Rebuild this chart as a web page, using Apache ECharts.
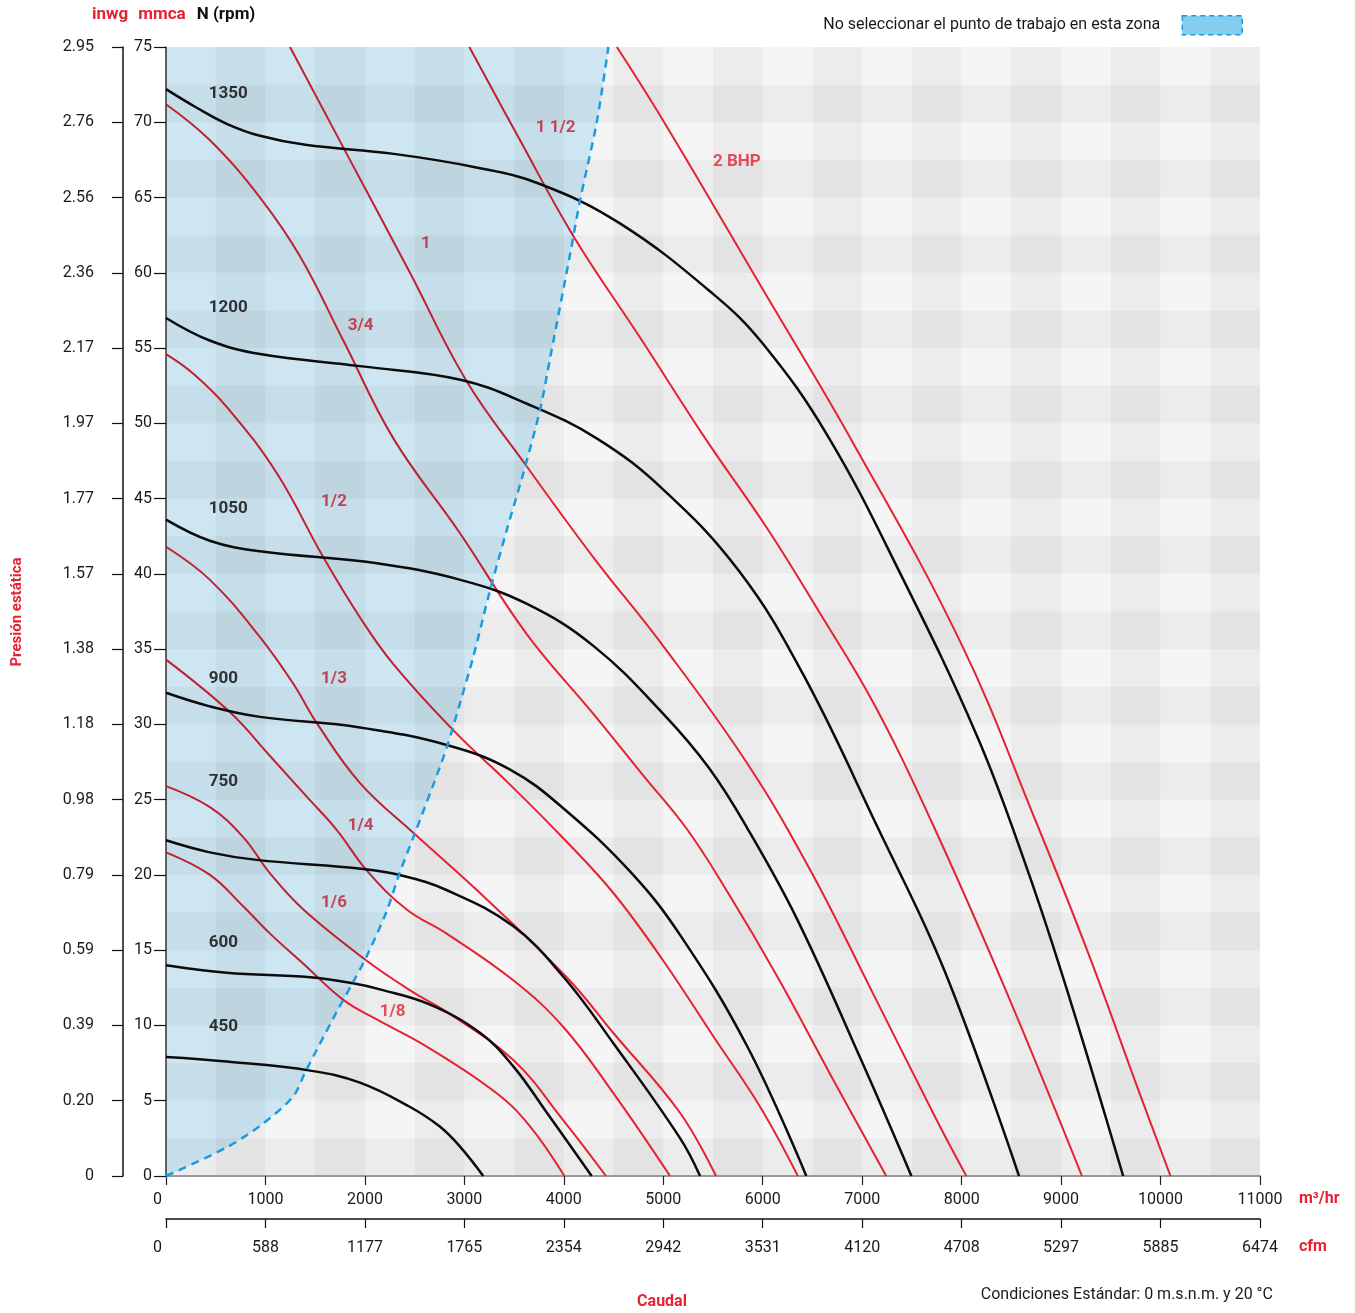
<!DOCTYPE html>
<html>
<head>
<meta charset="utf-8">
<script src="https://cdn.jsdelivr.net/npm/echarts@6/dist/echarts.min.js"></script>
<style>html,body{margin:0;padding:0;background:#fff}#c{width:1355px;height:1313px}</style>
</head>
<body>
<div id="c"></div>
<script>
// ---- axis tick labels ----
const inwgLabels = ['0','0.20','0.39','0.59','0.79','0.98','1.18','1.38','1.57','1.77','1.97','2.17','2.36','2.56','2.76','2.95'];
const cfmLabels = ['0','588','1177','1765','2354','2942','3531','4120','4708','5297','5885','6474'];

// ---- fan curves (m3/h, mmca) by rpm ----
const rpm1350 = [[0,72.2],[300,71.0],[610,69.9],[945,69.1],[1400,68.5],[2290,67.9],[3120,67.0],[3760,65.9],[4560,63.3],[5500,58.6],[6000,55.3],[6650,49.2],[7400,39.8],[8150,29.3],[8600,21.5],[9020,13.2],[9624,0]];
const rpm1200 = [[0,57.0],[440,55.5],[945,54.6],[1950,53.8],[2960,52.9],[3630,51.3],[4330,49.0],[5000,45.6],[5760,40.2],[6400,33.4],[7160,23.1],[7830,13.6],[8577,0]];
const rpm1050 = [[0,43.6],[440,42.2],[945,41.5],[2120,40.7],[2960,39.6],[3630,38.0],[4300,35.2],[5000,30.7],[5460,27.1],[5845,23.1],[6350,17.0],[6990,7.7],[7495,0]];
const rpm900 = [[0,32.1],[440,31.2],[945,30.5],[1950,29.8],[2840,28.6],[3460,27.0],[4000,24.4],[4670,20.2],[5170,16.0],[5845,8.6],[6438,0]];
const rpm750 = [[0,22.3],[440,21.5],[910,21.0],[1980,20.4],[2350,20.0],[2820,19.0],[3490,16.6],[4000,13.2],[4500,8.8],[5170,2.5],[5370,0]];
const rpm600 = [[0,14.0],[610,13.5],[1450,13.2],[1880,12.8],[2150,12.4],[2650,11.4],[3160,9.5],[3490,7.3],[3830,4.2],[4280,0]];
const rpm450 = [[0,7.9],[610,7.6],[1450,7.0],[1950,6.2],[2450,4.6],[2750,3.3],[2950,2.0],[3190,0]];

// ---- power curves (BHP) ----
const bhp2 = [[4533,75],[5000,70.1],[6000,58.9],[6900,48.8],[8000,35.3],[8750,23.5],[9273,14.8],[9800,5.3],[10100,0]];
const bhp1_5 = [[3050,75],[3560,68.8],[4100,62.4],[4786,55.5],[5422,49.0],[6057,42.9],[6565,37.5],[7115,31.4],[7700,23.5],[8427,12.6],[9210,0]];
const bhp1 = [[1247,75],[1817,67.9],[2453,60.0],[3023,52.8],[3610,47.3],[4297,41.1],[5000,35.2],[5845,27.4],[6480,20.3],[7073,12.6],[7750,3.7],[8047,0]];
const bhp3_4 = [[0,71.2],[442,68.8],[945,65.0],[1347,61.1],[1783,55.5],[2286,49.0],[2956,42.7],[3627,36.0],[4297,30.7],[4787,26.7],[5232,23.1],[5634,19.0],[6142,13.3],[6692,6.6],[7242,0]];
const bhp1_2 = [[0,54.6],[275,53.3],[610,51.1],[1113,46.7],[1582,41.1],[1951,37.1],[2286,34.0],[2890,29.6],[3459,26.0],[4000,22.4],[4498,18.8],[5000,14.3],[5506,9.25],[5973,4.6],[6353,0]];
const bhp1_3 = [[0,41.8],[442,39.6],[945,35.8],[1280,32.7],[1515,30.1],[1951,26.1],[2487,22.8],[3157,18.8],[4029,13.2],[4498,9.5],[5168,4.2],[5530,0]];
const bhp1_4 = [[0,34.3],[644,30.8],[1046,27.9],[1415,25.2],[1716,23.0],[2018,20.3],[2420,17.7],[2822,16.1],[3492,13.0],[3995,9.9],[4498,5.5],[5068,0]];
const bhp1_6 = [[0,25.9],[442,24.5],[778,22.5],[1046,20.1],[1381,17.7],[2018,14.3],[2487,12.2],[2822,10.9],[3492,7.7],[3995,3.7],[4424,0]];
const bhp1_8 = [[0,21.5],[442,20.0],[778,17.9],[1046,16.1],[1381,14.1],[1783,11.7],[2119,10.4],[2621,8.6],[3325,5.5],[3660,3.3],[4006,0]];

// ---- "do not select" zone boundary ----
const zoneEdge = [[0,0],[610,1.9],[980,3.5],[1280,5.3],[1400,6.9],[1716,10.9],[1883,12.9],[2018,14.6],[2219,17.6],[2353,20.2],[2487,22.5],[2688,26.0],[2830,28.6],[2960,31.5],[3090,34.5],[3258,38.9],[3426,42.9],[3593,46.7],[3761,50.9],[3861,54.3],[4062,61.2],[4163,64.8],[4331,70.0],[4448,75]];

// ---- curve annotations ----
const rpmNames = ['1350','1200','1050','900','750','600','450'];
const rpmAnchors = [[627,71.9],[627,57.7],[627,44.3],[577,33.05],[577,26.2],[577,15.5],[577,9.9]];
const bhpNames = ['2 BHP','1 1/2','1','3/4','1/2','1/3','1/4','1/6','1/8'];
const bhpAnchors = [[5740,67.4],[3918,69.65],[2614,61.9],[1957,56.5],[1689,44.8],[1689,33.05],[1957,23.3],[1689,18.15],[2279,10.9]];

const zoneName = 'No seleccionar el punto de trabajo en esta zona';
const RED = '#e42233';
const BLACK = '#0c0c0c';
const FONT = 'Roboto';

const rpmSeries = [rpm1350, rpm1200, rpm1050, rpm900, rpm750, rpm600, rpm450];
const bhpSeries = [bhp2, bhp1_5, bhp1, bhp3_4, bhp1_2, bhp1_3, bhp1_4, bhp1_6, bhp1_8];

const series = [];
bhpSeries.forEach((d, i) => series.push({
  name: 'bhp ' + bhpNames[i], type: 'line', data: d, showSymbol: false, smooth: 0.4,
  lineStyle: { color: RED, width: 2 }, itemStyle: { color: RED }, z: 2, silent: true
}));
rpmSeries.forEach((d, i) => series.push({
  name: 'rpm ' + rpmNames[i], type: 'line', data: d, showSymbol: false, smooth: 0.4,
  lineStyle: { color: BLACK, width: 2.5 }, itemStyle: { color: BLACK }, z: 2, silent: true
}));
series.push({
  name: 'labels', type: 'scatter', symbolSize: 1, z: 3, silent: true,
  itemStyle: { color: 'rgba(0,0,0,0)' },
  data: rpmAnchors.map((p, i) => ({ value: p, name: rpmNames[i], label: { color: '#050505' } }))
    .concat(bhpAnchors.map((p, i) => ({ value: p, name: bhpNames[i], label: { color: RED } }))),
  label: { show: true, position: 'inside', formatter: '{b}', fontFamily: FONT, fontWeight: 'bold', fontSize: 17 }
});
// tinted zone (multiplied over the grid and curves)
series.push({
  name: 'zone fill', type: 'line', data: zoneEdge, showSymbol: false, smooth: 0.3, z: 5, silent: true,
  blendMode: 'multiply',
  lineStyle: { width: 0, opacity: 0 },
  areaStyle: { origin: 'end', color: 'rgb(214,240,252)', opacity: 1 }
});
// dashed boundary
series.push({
  name: zoneName, type: 'line', data: zoneEdge, showSymbol: false, smooth: 0.3, z: 6, silent: true,
  lineStyle: { color: '#1a9be0', width: 2.5, type: [8, 6] },
  itemStyle: { color: '#82cdf0' }
});

const hidden = { axisLine: { show: false }, axisTick: { show: false }, axisLabel: { show: false }, splitLine: { show: false } };

const option = {
  animation: false,
  backgroundColor: '#ffffff',
  textStyle: { fontFamily: FONT },
  grid: { left: 166, right: 95, top: 47, bottom: 137, show: true, backgroundColor: '#f5f5f5', borderWidth: 0 },
  legend: {
    show: true, right: 112, top: 15, padding: 0, itemWidth: 60, itemHeight: 19, align: 'right', selectedMode: false,
    data: [{ name: zoneName, icon: 'rect', itemStyle: { color: '#82cdf0', borderColor: '#1a9be0', borderWidth: 1.5, borderType: [5, 4] } }],
    textStyle: { fontFamily: FONT, fontSize: 16, color: '#1a1a1a', padding: [0, 17, 0, 0] }
  },
  xAxis: [
    { type: 'value', min: 0, max: 11000, interval: 1000, position: 'bottom',
      axisLine: { show: true, onZero: false, lineStyle: { color: '#9a9a9a', width: 2 } },
      axisTick: { show: true, length: 9, lineStyle: { color: '#222', width: 1.2 } },
      axisLabel: { margin: 16, fontSize: 16, color: '#1a1a1a', fontFamily: FONT, alignMinLabel: 'right',
        formatter: v => (v === 0 ? '0 ' : String(v)) },
      splitLine: { show: false } },
    { type: 'value', min: 0, max: 11000, interval: 1000, position: 'bottom', offset: 43,
      axisLine: { show: true, onZero: false, lineStyle: { color: '#111', width: 1.5 } },
      axisTick: { show: true, length: 9, lineStyle: { color: '#111', width: 1.2 } },
      axisLabel: { margin: 21, fontSize: 16, color: '#1a1a1a', fontFamily: FONT, alignMinLabel: 'right',
        formatter: v => { const s = cfmLabels[Math.round(v / 1000)]; return v === 0 ? s + ' ' : s; } },
      splitLine: { show: false } },
    Object.assign({ type: 'value', min: 0, max: 11000, interval: 500, position: 'top',
      splitArea: { show: true, areaStyle: { color: ['rgba(0,0,0,0)', 'rgba(0,0,0,0.037)'] } } }, hidden)
  ],
  yAxis: [
    { type: 'value', min: 0, max: 75, interval: 5, position: 'left',
      axisLine: { show: true, onZero: false, lineStyle: { color: '#333', width: 1.5 } },
      axisTick: { show: true, length: 12, lineStyle: { color: '#111', width: 1.2 } },
      axisLabel: { margin: 14, fontSize: 16, color: '#1a1a1a', fontFamily: FONT },
      splitLine: { show: false } },
    { type: 'value', min: 0, max: 75, interval: 5, position: 'left', offset: 43,
      axisLine: { show: true, onZero: false, lineStyle: { color: '#111', width: 1.5 } },
      axisTick: { show: true, length: 11, lineStyle: { color: '#111', width: 1.2 } },
      axisLabel: { margin: 29, fontSize: 16, color: '#1a1a1a', fontFamily: FONT,
        formatter: v => inwgLabels[Math.round(v / 5)] },
      splitLine: { show: false } },
    Object.assign({ type: 'value', min: 0, max: 75, interval: 2.5, position: 'right',
      splitArea: { show: true, areaStyle: { color: ['rgba(0,0,0,0.037)', 'rgba(0,0,0,0)'] } } }, hidden)
  ],
  graphic: [
    { type: 'text', x: 110, y: 15, style: { text: 'inwg', fill: RED, fontFamily: FONT, fontWeight: 'bold', fontSize: 17, align: 'center', verticalAlign: 'middle' } },
    { type: 'text', x: 162, y: 15, style: { text: 'mmca', fill: RED, fontFamily: FONT, fontWeight: 'bold', fontSize: 17, align: 'center', verticalAlign: 'middle' } },
    { type: 'text', x: 226, y: 15, style: { text: 'N (rpm)', fill: '#111', fontFamily: FONT, fontWeight: 'bold', fontSize: 17, align: 'center', verticalAlign: 'middle' } },
    { type: 'text', x: 17, y: 612, rotation: Math.PI / 2, style: { text: 'Presión estática', fill: RED, fontFamily: FONT, fontWeight: 'bold', fontSize: 15, align: 'center', verticalAlign: 'middle' } },
    { type: 'text', x: 1299, y: 1199, style: { text: 'm³/hr', fill: RED, fontFamily: FONT, fontWeight: 'bold', fontSize: 16, align: 'left', verticalAlign: 'middle' } },
    { type: 'text', x: 1299, y: 1247, style: { text: 'cfm', fill: RED, fontFamily: FONT, fontWeight: 'bold', fontSize: 16, align: 'left', verticalAlign: 'middle' } },
    { type: 'text', x: 662, y: 1302, style: { text: 'Caudal', fill: RED, fontFamily: FONT, fontWeight: 'bold', fontSize: 16, align: 'center', verticalAlign: 'middle' } },
    { type: 'text', x: 1273, y: 1295, style: { text: 'Condiciones Estándar: 0 m.s.n.m. y 20 °C', fill: '#1a1a1a', fontFamily: FONT, fontSize: 16, align: 'right', verticalAlign: 'middle' } }
  ],
  series: series
};

const chart = echarts.init(document.getElementById('c'), null, { renderer: 'canvas' });
chart.setOption(option);
</script>
</body>
</html>
